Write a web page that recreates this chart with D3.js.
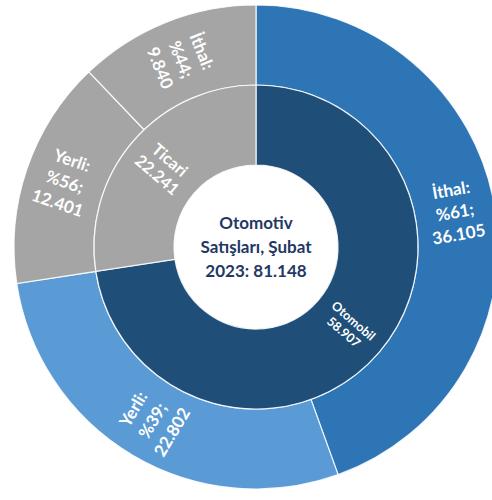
<!DOCTYPE html>
<html>
<head>
<meta charset="utf-8">
<script src="https://cdn.jsdelivr.net/npm/d3@7"></script>
<style>
  html, body { margin: 0; padding: 0; background: #fff; overflow: hidden; }
  svg { display: block; }
</style>
</head>
<body>
<svg id="chart" width="492" height="500"></svg>
<script>
// ---- data ----
const categories = ["Otomobil", "Ticari"];
const categoryValues = [58907, 22241];
const subLabels = ["İthal", "Yerli", "Yerli", "İthal"];
const subValues = [36105, 22802, 12401, 9840];
const subParent = [0, 0, 1, 1];
const titleLines = ["Otomotiv", "Satışları, Şubat", "2023: 81.148"];

// ---- styles ----
const innerColors = ["#1F4E79", "#A5A5A5"];
const outerColors = ["#2E75B6", "#5B9BD5", "#A5A5A5", "#A5A5A5"];

const tr = d3.formatLocale({decimal: ",", thousands: ".", grouping: [3], currency: ["₺", ""]});
const fmt = tr.format(",");

const svg = d3.select("#chart");
const cx = 256, cy = 247;
const r0 = 82, r1 = 162, r2 = 242;
const g = svg.append("g").attr("transform", `translate(${cx},${cy})`);

const pie = d3.pie().sort(null).value(d => d);
const innerArcs = pie(categoryValues);
const outerArcs = pie(subValues);

const innerArc = d3.arc().innerRadius(r0).outerRadius(r1);
const outerArc = d3.arc().innerRadius(r1).outerRadius(r2);

g.selectAll("path.outer").data(outerArcs).join("path")
  .attr("class", "outer")
  .attr("d", outerArc)
  .attr("fill", (d, i) => outerColors[i])
  .attr("stroke", "rgba(255,255,255,0.85)")
  .attr("stroke-width", 1.2);

g.selectAll("path.inner").data(innerArcs).join("path")
  .attr("class", "inner")
  .attr("d", innerArc)
  .attr("fill", (d, i) => innerColors[i])
  .attr("stroke", "rgba(255,255,255,0.85)")
  .attr("stroke-width", 1.2);

function rotation(d) {
  const deg = (d.startAngle + d.endAngle) / 2 * 180 / Math.PI;
  return deg < 180 ? deg - 90 : deg - 270;
}

function addLabel(d, arc, lines, size, lh) {
  const [x, y] = arc.centroid(d);
  const t = g.append("text")
    .attr("transform", `translate(${x},${y}) rotate(${rotation(d)})`)
    .attr("text-anchor", "middle")
    .attr("fill", "#fff")
    .attr("font-family", "Lato, 'Open Sans', sans-serif")
    .attr("font-weight", "bold")
    .attr("font-size", size + "px");
  const n = lines.length;
  lines.forEach((s, i) => {
    t.append("tspan")
      .attr("x", 0)
      .attr("y", (i - (n - 1) / 2) * lh)
      .attr("dy", "0.35em")
      .text(s);
  });
}

// outer labels
outerArcs.forEach((d, i) => {
  const parentTotal = categoryValues[subParent[i]];
  const pct = Math.round(subValues[i] / parentTotal * 100);
  addLabel(d, outerArc, [subLabels[i] + ":", "%" + pct + ";", fmt(subValues[i])], 17, 22.5);
});

// inner labels
innerArcs.forEach((d, i) => {
  const big = i === 1;
  addLabel(d, innerArc, [categories[i], fmt(categoryValues[i])], big ? 16.5 : 12.5, big ? 19.5 : 15);
});

// center title
const ct = g.append("text")
  .attr("text-anchor", "middle")
  .attr("fill", "#1F3864")
  .attr("font-family", "Lato, 'Open Sans', sans-serif")
  .attr("font-weight", "bold")
  .attr("font-size", "17px");
titleLines.forEach((s, i) => {
  ct.append("tspan").attr("x", 0).attr("y", (i - 1) * 24).attr("dy", "0.35em").text(s);
});
</script>
</body>
</html>
